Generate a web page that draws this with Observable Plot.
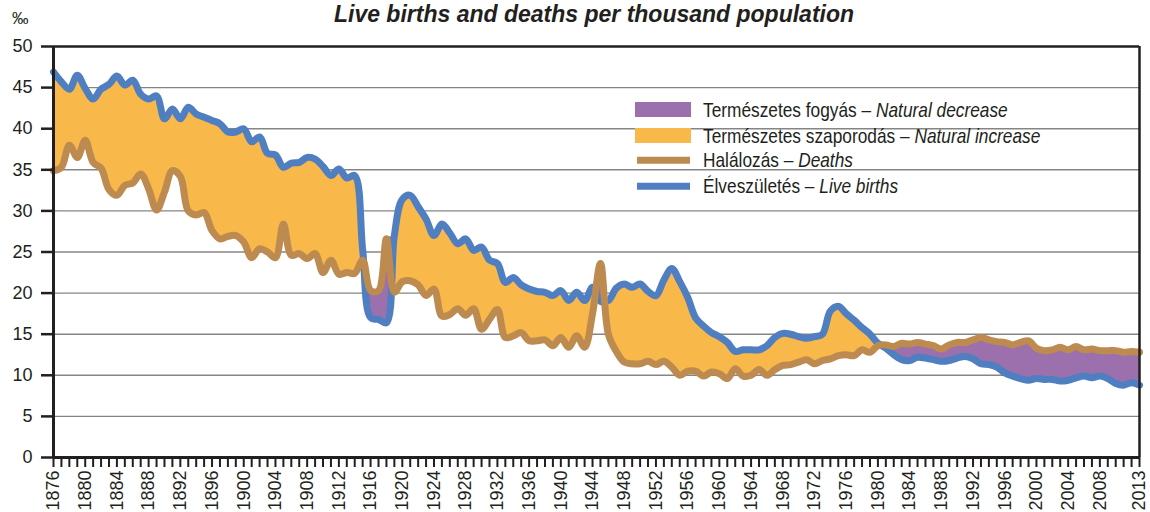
<!DOCTYPE html>
<html>
<head>
<meta charset="utf-8">
<script src="https://cdn.jsdelivr.net/npm/d3@7"></script>
<script src="https://cdn.jsdelivr.net/npm/@observablehq/plot@0.6"></script>
<style>
  html, body { margin: 0; padding: 0; background: #fff; }
  #chart { width: 1150px; height: 512px; overflow: hidden; }
</style>
</head>
<body>
<div id="chart"></div>
<script>
// ---- Data (per thousand population) ----
const years = [
  1876, 1877, 1878, 1879,
  1880, 1881, 1882, 1883, 1884, 1885, 1886, 1887, 1888, 1889,
  1890, 1891, 1892, 1893, 1894, 1895, 1896, 1897, 1898, 1899,
  1900, 1901, 1902, 1903, 1904, 1905, 1906, 1907, 1908, 1909,
  1910, 1911, 1912, 1913, 1914, 1915, 1916, 1917, 1918, 1919,
  1920, 1921, 1922, 1923, 1924, 1925, 1926, 1927, 1928, 1929,
  1930, 1931, 1932, 1933, 1934, 1935, 1936, 1937, 1938, 1939,
  1940, 1941, 1942, 1943, 1944, 1945, 1946, 1947, 1948, 1949,
  1950, 1951, 1952, 1953, 1954, 1955, 1956, 1957, 1958, 1959,
  1960, 1961, 1962, 1963, 1964, 1965, 1966, 1967, 1968, 1969,
  1970, 1971, 1972, 1973, 1974, 1975, 1976, 1977, 1978, 1979,
  1980, 1981, 1982, 1983, 1984, 1985, 1986, 1987, 1988, 1989,
  1990, 1991, 1992, 1993, 1994, 1995, 1996, 1997, 1998, 1999,
  2000, 2001, 2002, 2003, 2004, 2005, 2006, 2007, 2008, 2009,
  2010, 2011, 2012, 2013
];

const liveBirths = [
  46.9, 45.7, 44.8, 46.5,
  44.9, 43.6, 44.8, 45.4, 46.4, 45.3, 45.9, 44.2, 43.6, 44.0,
  41.2, 42.4, 41.2, 42.6, 41.8, 41.4, 41.0, 40.6, 39.6, 39.6,
  40.0, 38.4, 39.0, 37.0, 36.8, 35.3, 35.8, 35.9, 36.5, 36.3,
  35.4, 34.3, 35.1, 34.0, 34.3, 25.3, 17.0, 16.8, 16.4, 27.0,
  31.4, 31.9, 30.5, 29.0, 27.0, 28.4, 27.3, 26.0, 26.6, 25.2,
  25.6, 24.0, 23.6, 21.3, 21.9, 21.0, 20.5, 20.2, 20.1, 19.7,
  20.3, 19.1, 20.1, 19.1, 20.7, 19.0, 19.1, 20.6, 21.1, 20.7,
  21.1, 20.2, 19.7, 21.6, 23.0, 21.4, 19.5, 17.0, 16.0, 15.2,
  14.7, 14.0, 12.9, 13.1, 13.1, 13.1, 13.6, 14.6, 15.1, 15.0,
  14.7, 14.5, 14.7, 15.0, 17.8, 18.4, 17.5, 16.7, 15.8, 15.0,
  13.9, 13.3, 12.5, 11.9, 11.8, 12.2, 12.1, 11.9, 11.7, 11.8,
  12.1, 12.3, 12.0, 11.4, 11.3, 11.0, 10.3, 9.9, 9.6, 9.4,
  9.6, 9.5, 9.5, 9.3, 9.4, 9.7, 9.9, 9.7, 9.9, 9.6,
  9.0, 8.8, 9.1, 8.8
];

const deaths = [
  34.9, 35.3, 38.0, 36.5,
  38.6, 35.9, 35.2, 32.6, 31.9, 33.1, 33.4, 34.5, 32.7, 30.1,
  32.3, 34.9, 34.2, 30.0, 29.5, 29.8, 27.6, 26.6, 26.9, 27.0,
  26.2, 24.3, 25.4, 25.0, 24.3, 28.4, 24.6, 24.8, 24.2, 24.8,
  22.5, 24.0, 22.3, 22.5, 22.4, 24.0, 20.3, 20.3, 26.6, 20.1,
  21.4, 21.5, 21.0, 19.7, 20.5, 17.2, 17.4, 18.1, 17.3, 18.1,
  15.6, 16.8, 18.0, 14.6, 14.8, 15.2, 14.2, 14.2, 14.3, 13.6,
  14.6, 13.4, 14.8, 13.4, 17.5, 23.6, 15.0, 12.9, 11.6, 11.4,
  11.4, 11.7, 11.3, 11.7, 11.0, 10.0, 10.5, 10.5, 9.9, 10.4,
  10.2, 9.6, 10.8, 9.9, 10.0, 10.7, 10.0, 10.7, 11.2, 11.3,
  11.6, 11.9, 11.4, 11.8, 12.0, 12.4, 12.5, 12.4, 13.1, 12.8,
  13.6, 13.7, 13.5, 13.9, 13.8, 14.0, 13.8, 13.6, 13.2, 13.7,
  14.0, 14.0, 14.3, 14.6, 14.3, 14.1, 14.0, 13.7, 14.0, 14.2,
  13.3, 13.0, 13.1, 13.4, 13.1, 13.5, 13.1, 13.2, 13.0, 13.0,
  13.0, 12.8, 12.9, 12.8
];

const xTickLabels = [
  1876, 1880, 1884, 1888, 1892, 1896, 1900, 1904, 1908, 1912, 1916,
  1920, 1924, 1928, 1932, 1936, 1940, 1944, 1948, 1952, 1956, 1960,
  1964, 1968, 1972, 1976, 1980, 1984, 1988, 1992, 1996, 2000, 2004,
  2008, 2013
];
const yTicks = [0, 5, 10, 15, 20, 25, 30, 35, 40, 45, 50];

const chartTitle = "Live births and deaths per thousand population";
const unitLabel = "‰";
const legendItems = [
  {hu: "Természetes fogyás", en: "Natural decrease", kind: "rect", color: "#9B70AC"},
  {hu: "Természetes szaporodás", en: "Natural increase", kind: "rect", color: "#F8B94A"},
  {hu: "Halálozás", en: "Deaths", kind: "line", color: "#BD8A50"},
  {hu: "Élveszületés", en: "Live births", kind: "line", color: "#4F7FC1"}
];

// ---- Build table ----
const rows = years.map((year, i) => ({year, births: liveBirths[i], deaths: deaths[i]}));
const upperOf = d => Math.max(d.births, d.deaths);

const ink = "#231F20";
const fontStack = "'Liberation Sans', Arial, sans-serif";
const curve = "catmull-rom";
const labelSet = new Set(xTickLabels);

const chart = Plot.plot({
  width: 1150,
  height: 512,
  marginLeft: 53,
  marginRight: 11,
  marginTop: 46,
  marginBottom: 55,
  style: {fontFamily: fontStack, color: ink, background: "#fff"},
  x: {domain: [1876, 2013]},
  y: {domain: [0, 50]},
  marks: [
    Plot.gridY(yTicks.filter(d => d > 0 && d < 50), {stroke: "#858585", strokeOpacity: 1, strokeWidth: 1.4}),
    Plot.areaY(rows, {x: "year", y1: "deaths", y2: upperOf, fill: legendItems[1].color, curve}),
    Plot.areaY(rows, {x: "year", y1: "births", y2: upperOf, fill: legendItems[0].color, curve}),
    Plot.lineY(rows, {x: "year", y: "births", stroke: legendItems[3].color, strokeWidth: 7, curve, strokeLinejoin: "round"}),
    Plot.lineY(rows, {x: "year", y: "deaths", stroke: legendItems[2].color, strokeWidth: 7, curve, strokeLinejoin: "round"}),
    Plot.ruleY([50], {stroke: ink, strokeWidth: 2.5}),
    Plot.ruleX([2013], {stroke: ink, strokeWidth: 2.5}),
    Plot.ruleY([0], {stroke: ink, strokeWidth: 3}),
    Plot.ruleX([1876], {stroke: ink, strokeWidth: 3}),
    Plot.axisY({ticks: yTicks, tickSize: 12, tickPadding: 9, fontSize: 18, strokeWidth: 2.5, label: null, tickFormat: d => String(d)}),
    Plot.axisX({
      ticks: years,
      tickSize: 10,
      tickPadding: 3,
      strokeWidth: 2,
      tickRotate: -90,
      fontSize: 18,
      label: null,
      tickFormat: d => labelSet.has(d) ? String(d) : ""
    })
  ]
});

document.getElementById("chart").appendChild(chart);

// ---- Overlays: title, unit, legend ----
const svg = d3.select(chart);
svg.append("text")
  .attr("x", 594).attr("y", 22)
  .attr("text-anchor", "middle")
  .attr("font-family", fontStack)
  .attr("font-size", 23).attr("font-weight", "bold").attr("font-style", "italic")
  .attr("fill", ink)
  .text(chartTitle);

svg.append("text")
  .attr("x", 12).attr("y", 24)
  .attr("text-anchor", "start")
  .attr("font-family", fontStack)
  .attr("font-size", 16.5)
  .attr("fill", ink)
  .text(unitLabel);

const legend = svg.append("g")
  .attr("font-family", fontStack)
  .attr("text-anchor", "start")
  .attr("fill", ink);
const swatchY = [102, 128, 160.3, 186.2];
const textY = [116.7, 142.7, 166.7, 192.7];
legendItems.forEach((item, i) => {
  if (item.kind === "rect") {
    legend.append("rect").attr("x", 635).attr("y", swatchY[i]).attr("width", 56).attr("height", 15).attr("fill", item.color);
  } else {
    legend.append("line").attr("x1", 637).attr("x2", 690).attr("y1", swatchY[i]).attr("y2", swatchY[i])
      .attr("stroke", item.color).attr("stroke-width", 7);
  }
  const t = legend.append("text")
    .attr("text-anchor", "start")
    .attr("transform", `translate(703,${textY[i]}) scale(0.865,1)`)
    .attr("font-size", 20);
  t.append("tspan").text(item.hu + " – ");
  t.append("tspan").attr("font-style", "italic").text(item.en);
});
</script>
</body>
</html>
